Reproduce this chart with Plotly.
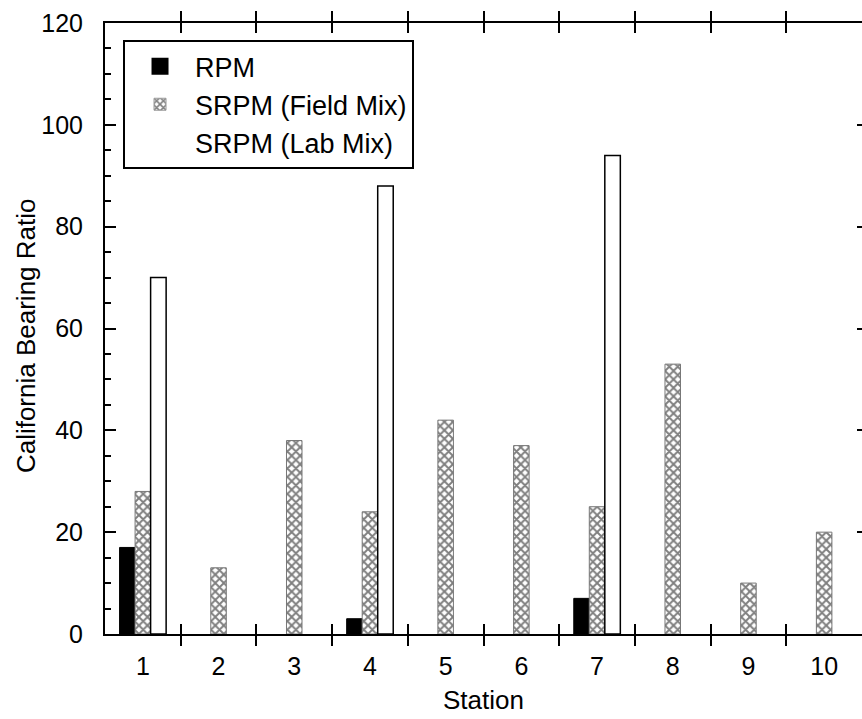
import plotly.graph_objects as go

stations = ["1", "2", "3", "4", "5", "6", "7", "8", "9", "10"]
rpm = [17, None, None, 3, None, None, 7, None, None, None]
srpm_field = [28, 13, 38, 24, 42, 37, 25, 53, 10, 20]
srpm_lab = [70, None, None, 88, None, None, 94, None, None, None]

series_names = ["RPM", "SRPM (Field Mix)", "SRPM (Lab Mix)"]

FONT = "Arial, Liberation Sans, sans-serif"
HATCH = dict(shape="x", fgcolor="black", bgcolor="white", size=6, solidity=0.55)

fig = go.Figure()
fig.add_trace(go.Bar(
    x=stations, y=rpm, name=series_names[0], showlegend=False,
    marker=dict(color="black", line=dict(color="black", width=1)),
))
fig.add_trace(go.Bar(
    x=stations, y=srpm_field, name=series_names[1], showlegend=False,
    marker=dict(color="white", pattern=HATCH, line=dict(color="#777777", width=1)),
))
fig.add_trace(go.Bar(
    x=stations, y=srpm_lab, name=series_names[2], showlegend=False,
    marker=dict(color="white", line=dict(color="black", width=1.5)),
))

# legend entries (no data drawn; styled swatches like the original key)
legend_styles = [
    dict(color="black", line=dict(color="black", width=5)),
    dict(color="white", pattern=HATCH, line=dict(color="#999999", width=1)),
    dict(color="white", line=dict(color="white", width=0)),
]
for nm, mk in zip(series_names, legend_styles):
    fig.add_trace(go.Bar(
        x=stations, y=[None] * len(stations), name=nm, yaxis="y2",
        marker=mk, hoverinfo="skip", showlegend=True,
    ))

fig.update_layout(
    width=862, height=719,
    margin=dict(l=105, r=0, t=23, b=85),
    paper_bgcolor="white", plot_bgcolor="white",
    font=dict(family=FONT, size=25, color="black"),
    barmode="group", bargap=0.385, bargroupgap=0,
    showlegend=True,
    legend=dict(x=0.0238, y=0.972, xanchor="left", yanchor="top",
                bgcolor="white", bordercolor="black", borderwidth=2,
                font=dict(family=FONT, size=27, color="black"),
                tracegroupgap=0, itemwidth=60),
    xaxis=dict(type="category", range=[-0.5, 9.5],
               showline=True, linecolor="black", linewidth=2, mirror="allticks",
               ticks="inside", tickson="boundaries", ticklen=10, tickwidth=2, tickcolor="black",
               showgrid=False, zeroline=False,
               tickfont=dict(family=FONT, size=25), ticklabelstandoff=9),
    yaxis=dict(range=[0, 120], dtick=20, tick0=0,
               showline=True, linecolor="black", linewidth=2, mirror=False,
               ticks="inside", ticklen=11, tickwidth=2, tickcolor="black",
               minor=dict(dtick=5, ticks="inside", ticklen=6, tickwidth=2, tickcolor="black", showgrid=False),
               showgrid=False, zeroline=False,
               tickfont=dict(family=FONT, size=25), ticklabelstandoff=15),
    yaxis2=dict(overlaying="y", side="right", range=[0, 120], dtick=20,
                ticks="inside", ticklen=5, tickwidth=2, tickcolor="black",
                showticklabels=False, showgrid=False, zeroline=False, showline=False),
    annotations=[
        dict(text="Station", xref="paper", yref="paper", x=0.5, y=-0.108,
             xanchor="center", yanchor="middle", showarrow=False,
             font=dict(family=FONT, size=26)),
        dict(text="California Bearing Ratio", xref="paper", yref="paper", x=-0.104, y=0.488,
             xanchor="center", yanchor="middle", textangle=-90, showarrow=False,
             font=dict(family=FONT, size=26)),
    ],
)

fig.write_html("out.html")
